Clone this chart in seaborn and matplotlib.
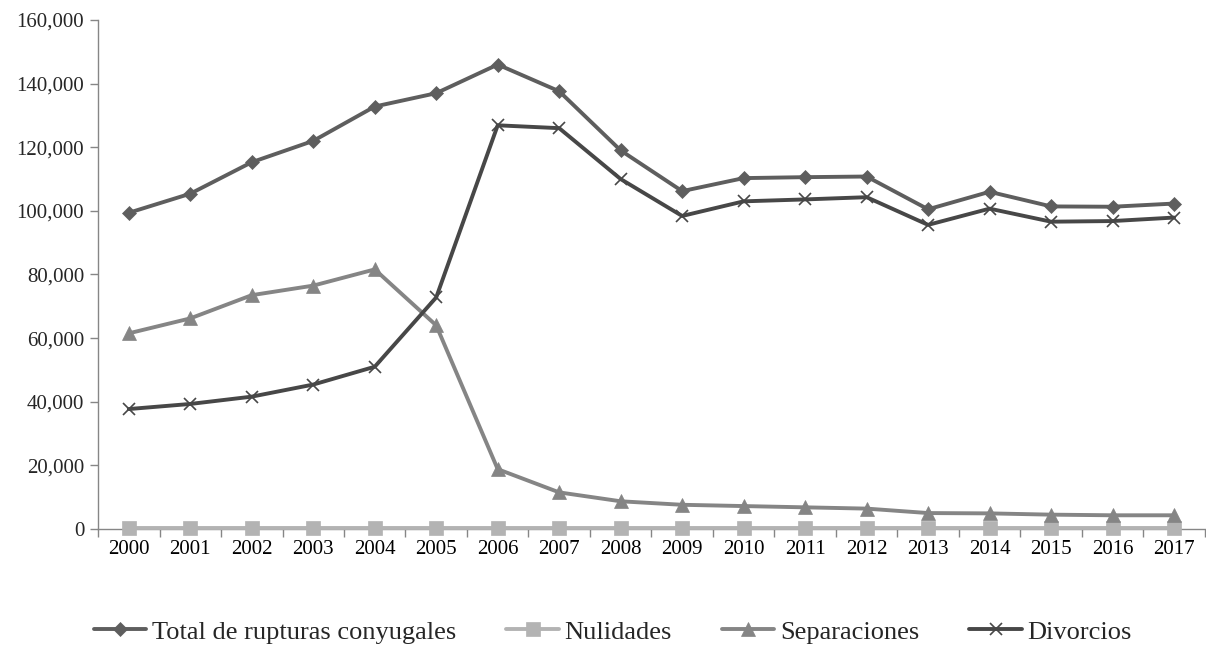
import matplotlib
matplotlib.use("Agg")
import matplotlib.pyplot as plt
import matplotlib.ticker as mticker
import seaborn as sns
import pandas as pd

# Data
years = list(range(2000, 2018))
total = [99400, 105400, 115300, 122000, 132800, 137000, 146000, 137600, 119000,
         106200, 110300, 110600, 110800, 100500, 106000, 101400, 101300, 102300]
nulidades = [200, 200, 200, 200, 200, 200, 200, 200, 200,
             200, 200, 200, 200, 200, 200, 200, 200, 200]
separaciones = [61500, 66200, 73500, 76500, 81600, 64000, 18800, 11500, 8700,
                7600, 7200, 6800, 6400, 5000, 4900, 4500, 4300, 4300]
divorcios = [37700, 39300, 41600, 45400, 51000, 72800, 126900, 126000, 110000,
             98400, 103000, 103600, 104300, 95600, 100700, 96600, 96800, 97900]

series_names = ["Total de rupturas conyugales", "Nulidades", "Separaciones", "Divorcios"]
colors = ["#5e5e5e", "#b3b3b3", "#858585", "#474747"]
markers = ["D", "s", "^", "x"]
msizes = [7, 10, 10, 9]

df = pd.DataFrame({
    "year": years * 4,
    "value": total + nulidades + separaciones + divorcios,
    "serie": sum([[n] * len(years) for n in series_names], []),
})

sns.set_style("white")
plt.rcParams["font.family"] = ["Liberation Serif", "DejaVu Serif"]

fig, ax = plt.subplots(figsize=(12.06, 6.52), dpi=100)
fig.subplots_adjust(left=0.0813, right=0.999, bottom=0.1887, top=0.9693)

for name, col, mk, ms in zip(series_names, colors, markers, msizes):
    sub = df[df["serie"] == name]
    sns.lineplot(data=sub, x="year", y="value", ax=ax, color=col, linewidth=2.8,
                 marker=mk, markersize=ms, markeredgecolor=col,
                 markeredgewidth=1.2 if mk == "x" else 0.5, label=name, legend=False,
                 clip_on=False, zorder=3)

ax.set_xlim(years[0] - 0.5, years[-1] + 0.5)
ax.set_ylim(0, 160000)
ax.set_xticks(years)
ax.set_xticklabels([str(y) for y in years])
ax.xaxis.set_minor_locator(mticker.FixedLocator([y - 0.5 for y in years] + [years[-1] + 0.5]))
ax.yaxis.set_major_locator(mticker.MultipleLocator(20000))
ax.yaxis.set_major_formatter(mticker.FuncFormatter(lambda v, p: f"{int(v):,}"))
ax.tick_params(axis="x", which="major", length=0, labelsize=15, pad=8, colors="black")
ax.tick_params(axis="x", which="minor", length=6, direction="out", color="#868686", width=1, bottom=True)
ax.tick_params(axis="y", length=6, direction="out", color="#868686", width=1, labelsize=15, pad=4, left=True)
ax.set_xlabel("")
ax.set_ylabel("")
for s in ["top", "right"]:
    ax.spines[s].set_visible(False)
for s in ["left", "bottom"]:
    ax.spines[s].set_color("#868686")
    ax.spines[s].set_linewidth(1)

handles, labels = ax.get_legend_handles_labels()
fig.legend(handles, labels, loc="center", bbox_to_anchor=(0.508, 0.031), ncol=4,
           frameon=False, fontsize=19, handlelength=2.0, handletextpad=0.2,
           columnspacing=1.9)

fig.savefig("out.png", dpi=100)
